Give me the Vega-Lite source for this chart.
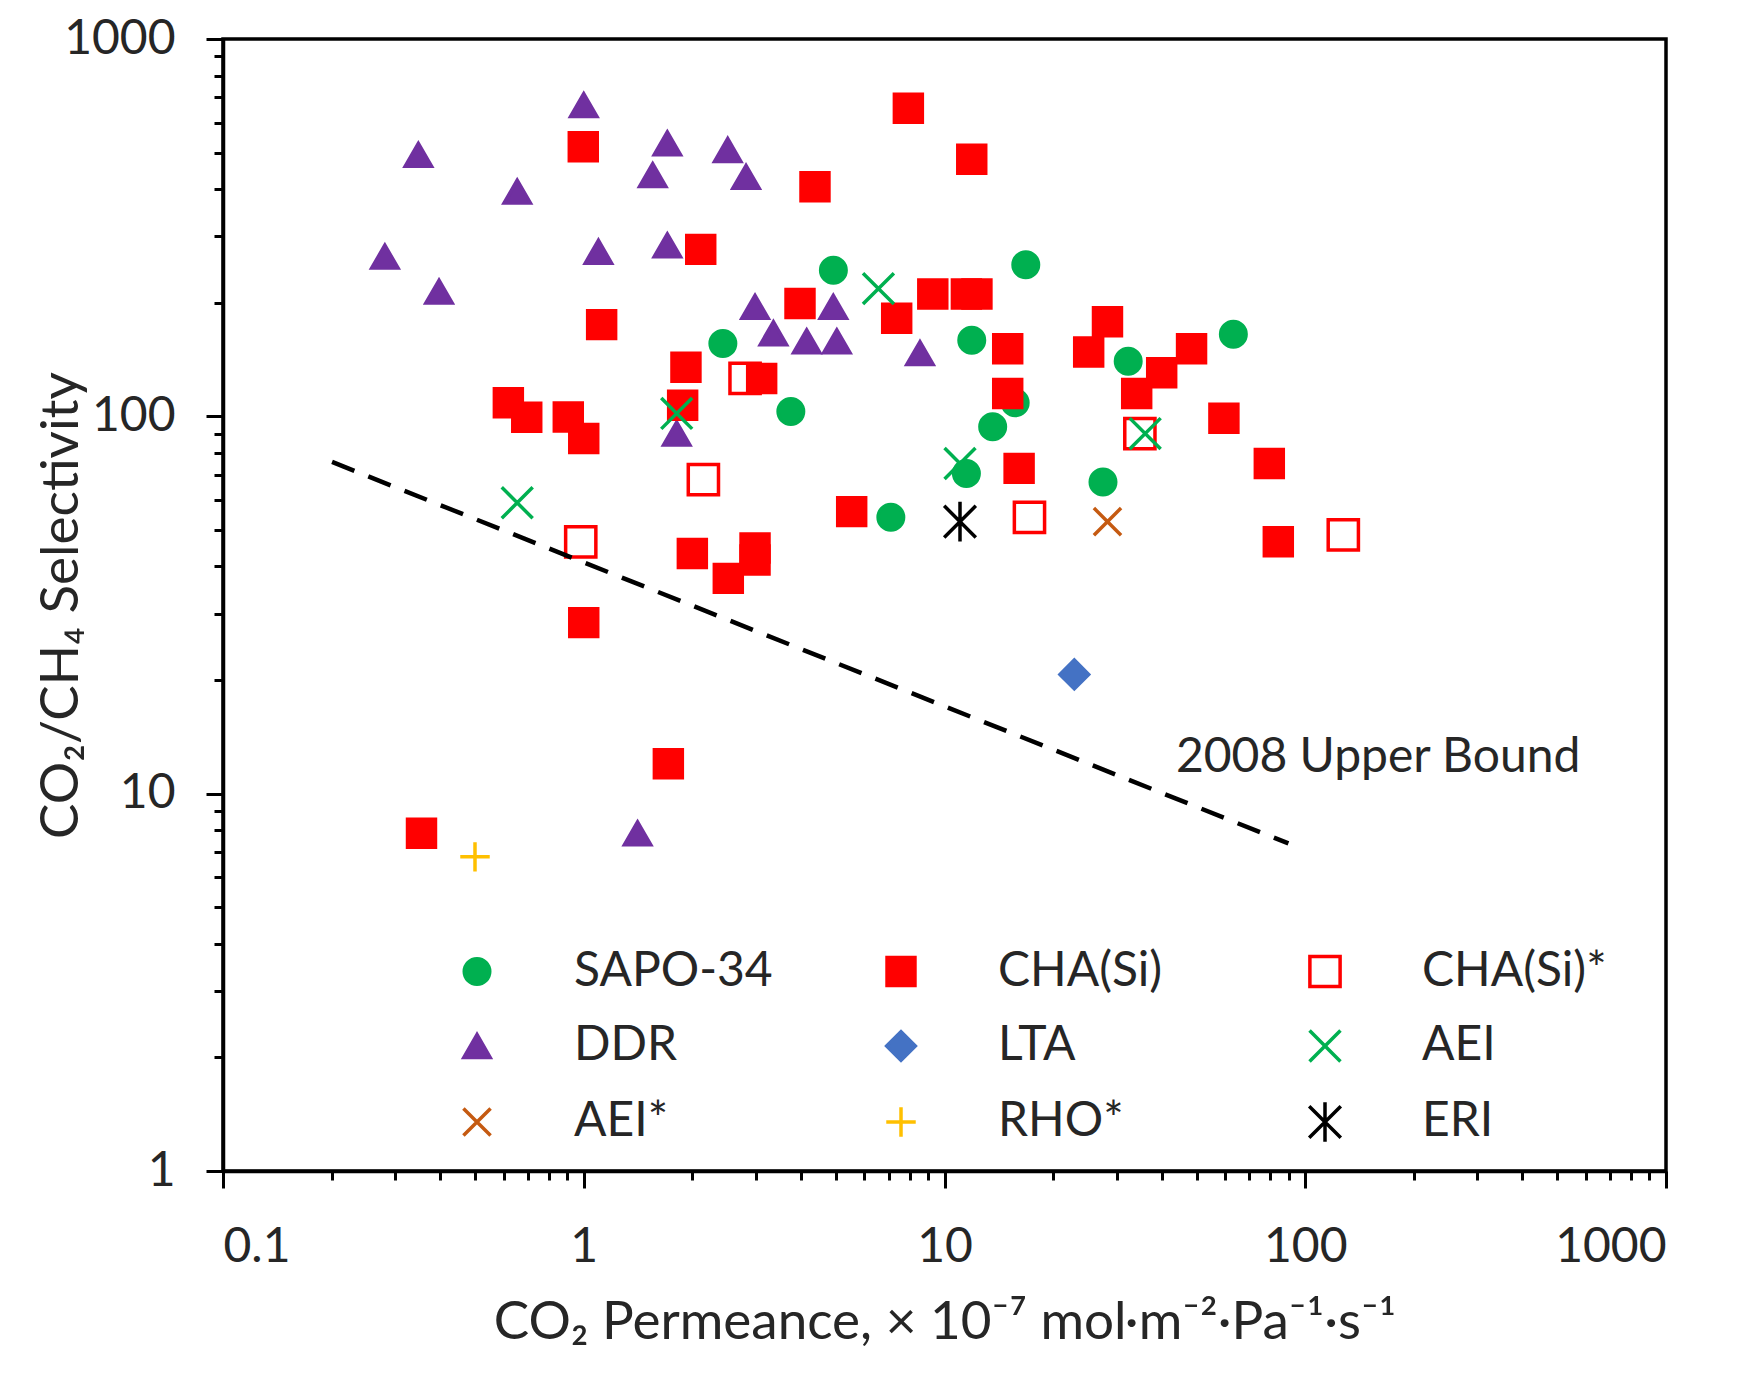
{
  "$schema": "https://vega.github.io/schema/vega-lite/v6.json",
  "width": 1443,
  "height": 1132,
  "autosize": {"type": "none"},
  "padding": {"left": 223, "top": 39, "right": 79, "bottom": 202},
  "background": "white",
  "config": {
    "view": {"stroke": "black", "strokeWidth": 3.5},
    "font": "Lato",
    "axis": {
      "grid": false,
      "domainColor": "black",
      "domainWidth": 3.5,
      "tickColor": "black",
      "tickWidth": 3,
      "labelFont": "Lato",
      "labelFontSize": 48,
      "labelColor": "#262626",
      "labelOverlap": false,
      "titleFont": "Lato",
      "titleFontSize": 53,
      "titleFontWeight": "normal",
      "titleColor": "#262626"
    },
    "legend": {
      "orient": "none",
      "legendX": 230,
      "legendY": 907,
      "columns": 3,
      "gridAlign": "all",
      "columnPadding": 104,
      "rowPadding": 22,
      "padding": 0,
      "labelFont": "Lato",
      "labelFontSize": 48,
      "labelColor": "#262626",
      "labelOffset": 73,
      "labelLimit": 500,
      "symbolStrokeWidth": 3.5
    }
  },
  "layer": [
    {
      "data": {
        "values": [
          {"type": "SAPO-34", "x": 4.92, "y": 244},
          {"type": "SAPO-34", "x": 2.43, "y": 156},
          {"type": "SAPO-34", "x": 3.75, "y": 103},
          {"type": "SAPO-34", "x": 16.8, "y": 252},
          {"type": "SAPO-34", "x": 11.9, "y": 159},
          {"type": "SAPO-34", "x": 15.7, "y": 108.7},
          {"type": "SAPO-34", "x": 13.6, "y": 93.9},
          {"type": "SAPO-34", "x": 11.5, "y": 70.6},
          {"type": "SAPO-34", "x": 32.3, "y": 140},
          {"type": "SAPO-34", "x": 63.2, "y": 165},
          {"type": "SAPO-34", "x": 27.5, "y": 67},
          {"type": "SAPO-34", "x": 7.1, "y": 54},
          {"type": "DDR", "x": 1.0, "y": 668},
          {"type": "DDR", "x": 0.348, "y": 493},
          {"type": "DDR", "x": 0.654, "y": 394},
          {"type": "DDR", "x": 0.281, "y": 265},
          {"type": "DDR", "x": 0.397, "y": 214},
          {"type": "DDR", "x": 1.098, "y": 273},
          {"type": "DDR", "x": 1.705, "y": 529},
          {"type": "DDR", "x": 1.553, "y": 436},
          {"type": "DDR", "x": 2.506, "y": 508},
          {"type": "DDR", "x": 2.817, "y": 431},
          {"type": "DDR", "x": 1.705, "y": 284},
          {"type": "DDR", "x": 2.984, "y": 195},
          {"type": "DDR", "x": 3.355, "y": 166},
          {"type": "DDR", "x": 4.918, "y": 195},
          {"type": "DDR", "x": 4.15, "y": 158},
          {"type": "DDR", "x": 5.03, "y": 158},
          {"type": "DDR", "x": 1.81, "y": 90},
          {"type": "DDR", "x": 8.55, "y": 147},
          {"type": "DDR", "x": 1.41, "y": 7.85},
          {"type": "CHA(Si)*", "x": 0.981, "y": 46.5},
          {"type": "CHA(Si)*", "x": 2.146, "y": 68},
          {"type": "CHA(Si)*", "x": 2.8, "y": 126},
          {"type": "CHA(Si)*", "x": 17.2, "y": 54},
          {"type": "CHA(Si)*", "x": 34.8, "y": 90},
          {"type": "CHA(Si)*", "x": 127.5, "y": 48.5},
          {"type": "CHA(Si)", "x": 0.355, "y": 7.85},
          {"type": "CHA(Si)", "x": 0.618, "y": 108.7},
          {"type": "CHA(Si)", "x": 0.695, "y": 99.4},
          {"type": "CHA(Si)", "x": 0.906, "y": 99.6},
          {"type": "CHA(Si)", "x": 1.0, "y": 87.4},
          {"type": "CHA(Si)", "x": 0.997, "y": 518},
          {"type": "CHA(Si)", "x": 1.0, "y": 28.4},
          {"type": "CHA(Si)", "x": 1.121, "y": 175},
          {"type": "CHA(Si)", "x": 1.716, "y": 12.0},
          {"type": "CHA(Si)", "x": 1.88, "y": 107},
          {"type": "CHA(Si)", "x": 1.92, "y": 135},
          {"type": "CHA(Si)", "x": 2.0, "y": 43.3},
          {"type": "CHA(Si)", "x": 2.11, "y": 277},
          {"type": "CHA(Si)", "x": 2.516, "y": 37.2},
          {"type": "CHA(Si)", "x": 2.984, "y": 44.8},
          {"type": "CHA(Si)", "x": 2.984, "y": 41.6},
          {"type": "CHA(Si)", "x": 3.113, "y": 126},
          {"type": "CHA(Si)", "x": 3.976, "y": 199},
          {"type": "CHA(Si)", "x": 4.375, "y": 406},
          {"type": "CHA(Si)", "x": 5.53, "y": 55.9},
          {"type": "CHA(Si)", "x": 7.37, "y": 182},
          {"type": "CHA(Si)", "x": 7.94, "y": 655},
          {"type": "CHA(Si)", "x": 9.28, "y": 211},
          {"type": "CHA(Si)", "x": 11.5, "y": 211},
          {"type": "CHA(Si)", "x": 12.3, "y": 211},
          {"type": "CHA(Si)", "x": 11.9, "y": 480},
          {"type": "CHA(Si)", "x": 14.97, "y": 151},
          {"type": "CHA(Si)", "x": 14.97, "y": 115},
          {"type": "CHA(Si)", "x": 16.1, "y": 72.8},
          {"type": "CHA(Si)", "x": 25.1, "y": 148},
          {"type": "CHA(Si)", "x": 28.3, "y": 178},
          {"type": "CHA(Si)", "x": 34.1, "y": 115},
          {"type": "CHA(Si)", "x": 40.0, "y": 130.5},
          {"type": "CHA(Si)", "x": 48.4, "y": 151},
          {"type": "CHA(Si)", "x": 59.5, "y": 98.8},
          {"type": "CHA(Si)", "x": 79.5, "y": 75},
          {"type": "CHA(Si)", "x": 84.2, "y": 46.5},
          {"type": "LTA", "x": 22.9, "y": 20.7},
          {"type": "AEI", "x": 0.654, "y": 59},
          {"type": "AEI", "x": 1.81, "y": 101.8},
          {"type": "AEI", "x": 6.56, "y": 218},
          {"type": "AEI", "x": 11.04, "y": 75},
          {"type": "AEI", "x": 36, "y": 90},
          {"type": "AEI*", "x": 28.3, "y": 52.6},
          {"type": "RHO*", "x": 0.4995, "y": 6.8},
          {"type": "ERI", "x": 11.04, "y": 52.6}
        ]
      },
      "mark": {"type": "point", "strokeWidth": 3.5, "opacity": 1},
      "encoding": {
        "x": {
          "field": "x",
          "type": "quantitative",
          "scale": {"type": "log", "domain": [0.1, 1000], "nice": false},
          "axis": {
            "values": [0.1, 0.2, 0.3, 0.4, 0.5, 0.6, 0.7, 0.8, 0.9, 1, 2, 3, 4, 5, 6, 7, 8, 9, 10, 20, 30, 40, 50, 60, 70, 80, 90, 100, 200, 300, 400, 500, 600, 700, 800, 900, 1000],
            "labelExpr": "abs(log(datum.value)/LN10 - round(log(datum.value)/LN10)) < 0.01 ? format(datum.value, '~g') : ''",
            "tickSize": {"condition": {"test": "abs(log(datum.value)/LN10 - round(log(datum.value)/LN10)) < 0.01", "value": 17}, "value": 9},
            "labelPadding": 35,
            "title": "CO₂ Permeance, × 10⁻⁷ mol·m⁻²·Pa⁻¹·s⁻¹",
            "titleX": 721.5,
            "titleY": 151,
            "titleAlign": "center",
            "titleBaseline": "middle"
          }
        },
        "y": {
          "field": "y",
          "type": "quantitative",
          "scale": {"type": "log", "domain": [1, 1000], "nice": false},
          "axis": {
            "values": [1, 2, 3, 4, 5, 6, 7, 8, 9, 10, 20, 30, 40, 50, 60, 70, 80, 90, 100, 200, 300, 400, 500, 600, 700, 800, 900, 1000],
            "labelExpr": "abs(log(datum.value)/LN10 - round(log(datum.value)/LN10)) < 0.01 ? format(datum.value, '~g') : ''",
            "tickSize": {"condition": {"test": "abs(log(datum.value)/LN10 - round(log(datum.value)/LN10)) < 0.01", "value": 17}, "value": 9},
            "labelPadding": 31,
            "title": "CO₂/CH₄ Selectivity",
            "titleX": -162,
            "titleY": 566,
            "titleAngle": -90,
            "titleAlign": "center",
            "titleBaseline": "middle"
          }
        },
        "shape": {
          "field": "type",
          "type": "nominal",
          "title": null,
          "scale": {
            "domain": ["SAPO-34", "DDR", "AEI*", "CHA(Si)", "LTA", "RHO*", "CHA(Si)*", "AEI", "ERI"],
            "range": ["circle", "triangle-up", "M-1,-1L1,1M-1,1L1,-1", "square", "diamond", "M-1,0L1,0M0,-1L0,1", "square", "M-1,-1L1,1M-1,1L1,-1", "M-1,-1L1,1M-1,1L1,-1M0,-1.25L0,1.25"]
          }
        },
        "fill": {
          "field": "type",
          "type": "nominal",
          "title": null,
          "scale": {
            "domain": ["SAPO-34", "DDR", "AEI*", "CHA(Si)", "LTA", "RHO*", "CHA(Si)*", "AEI", "ERI"],
            "range": ["#00B050", "#7030A0", "transparent", "#FF0000", "#4472C4", "transparent", "transparent", "transparent", "transparent"]
          }
        },
        "stroke": {
          "field": "type",
          "type": "nominal",
          "title": null,
          "scale": {
            "domain": ["SAPO-34", "DDR", "AEI*", "CHA(Si)", "LTA", "RHO*", "CHA(Si)*", "AEI", "ERI"],
            "range": ["#00B050", "#7030A0", "#C55A11", "#FF0000", "#4472C4", "#FFC000", "#FF0000", "#00B050", "#000000"]
          }
        },
        "size": {
          "field": "type",
          "type": "nominal",
          "title": null,
          "scale": {
            "domain": ["SAPO-34", "DDR", "AEI*", "CHA(Si)", "LTA", "RHO*", "CHA(Si)*", "AEI", "ERI"],
            "range": [650, 1000, 700, 700, 1000, 700, 850, 700, 750]
          }
        }
      }
    },
    {
      "data": {
        "values": [
          {"x": 0.2006, "y": 75.7},
          {"x": 89.8, "y": 7.38}
        ]
      },
      "mark": {"type": "line", "color": "black", "strokeWidth": 4.5, "strokeDash": [24, 15]},
      "encoding": {
        "x": {"field": "x", "type": "quantitative"},
        "y": {"field": "y", "type": "quantitative"}
      }
    },
    {
      "data": {
        "values": [
          {"x": 43.8, "y": 12.4, "label": "2008 Upper Bound"}
        ]
      },
      "mark": {"type": "text", "align": "left", "baseline": "middle", "font": "Lato", "fontSize": 48, "color": "#262626"},
      "encoding": {
        "x": {"field": "x", "type": "quantitative"},
        "y": {"field": "y", "type": "quantitative"},
        "text": {"field": "label"}
      }
    }
  ]
}
